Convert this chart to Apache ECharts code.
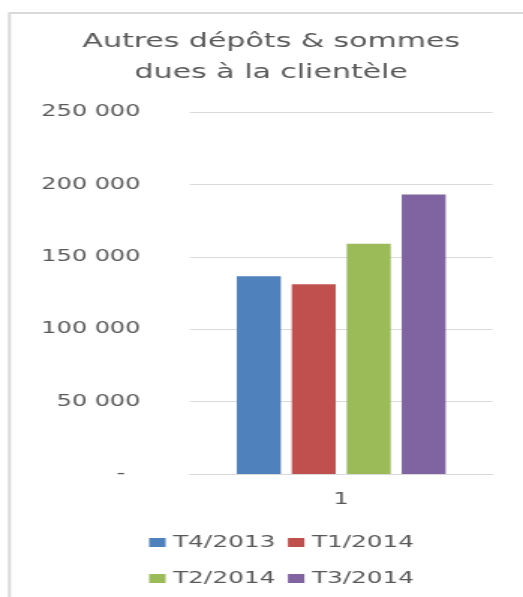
<!DOCTYPE html>
<html>
<head>
<meta charset="utf-8">
<script src="https://cdn.jsdelivr.net/npm/echarts@6/dist/echarts.min.js"></script>
<style>
  html, body { margin: 0; padding: 0; background: #fff; overflow: hidden; }
  /* the source picture is stretched sideways, so the chart is drawn narrow and widened */
  #chart { width: 349px; height: 597px; transform: scaleX(1.4986); transform-origin: 0 0; }
</style>
</head>
<body>
<div id="chart"></div>
<script>
// data
const categories = ['1'];
const seriesNames = ['T4/2013', 'T1/2014', 'T2/2014', 'T3/2014'];
const seriesValues = [136500, 131000, 159000, 193000];
const colors = ['#4F81BD', '#C0504D', '#9BBB59', '#8064A2'];

const textColor = '#595959';
const font = 'DejaVu Sans';

function fmt(v) {
  if (v === 0) return '-  ';
  return String(v).replace(/\B(?=(\d{3})+(?!\d))/g, ' ');
}

const chart = echarts.init(document.getElementById('chart'), null, { renderer: 'canvas' });

const series = seriesNames.map((name, i) => ({
  name: name,
  type: 'bar',
  data: [seriesValues[i]],
  itemStyle: { color: colors[i] },
  barGap: '25%',
  barCategoryGap: '31%',
  animation: false
}));

const legendStyle = {
  orient: 'horizontal',
  left: 94.5,
  itemWidth: 11,
  itemHeight: 9,
  itemGap: 8.5,
  icon: 'rect',
  textStyle: { color: textColor, fontSize: 16.5, fontFamily: font, padding: [0, 0, 0, 0] },
  selectedMode: false
};

chart.setOption({
  backgroundColor: '#fff',
  animation: false,
  title: {
    text: 'Autres dépôts & sommes\ndues à la clientèle',
    left: 181,
    top: 26,
    padding: 0,
    textAlign: 'center',
    textStyle: { color: textColor, fontSize: 20, fontWeight: 'normal', fontFamily: font, lineHeight: 31 }
  },
  legend: [
    Object.assign({ top: 529, data: seriesNames.slice(0, 2) }, legendStyle),
    Object.assign({ top: 565, data: seriesNames.slice(2, 4) }, legendStyle)
  ],
  grid: { left: 126.7, right: 20.3, top: 112, bottom: 123, outerBoundsMode: 'none' },
  xAxis: {
    type: 'category',
    data: categories,
    axisLine: { lineStyle: { color: '#d9d9d9', width: 1 } },
    axisTick: { show: false },
    axisLabel: { color: textColor, fontSize: 16, fontFamily: font, margin: 18 }
  },
  yAxis: {
    type: 'value',
    min: 0,
    max: 250000,
    interval: 50000,
    axisLine: { show: false },
    axisTick: { show: false },
    splitLine: { lineStyle: { color: '#d9d9d9', width: 1 } },
    axisLabel: { color: textColor, fontSize: 16, fontFamily: font, margin: 33, formatter: fmt }
  },
  graphic: [{
    type: 'rect',
    silent: true,
    shape: { x: 6.3, y: 13, width: 500, height: 700 },
    style: { fill: 'none', stroke: '#d9d9d9', lineWidth: 2 }
  }],
  series: series
});
</script>
</body>
</html>
